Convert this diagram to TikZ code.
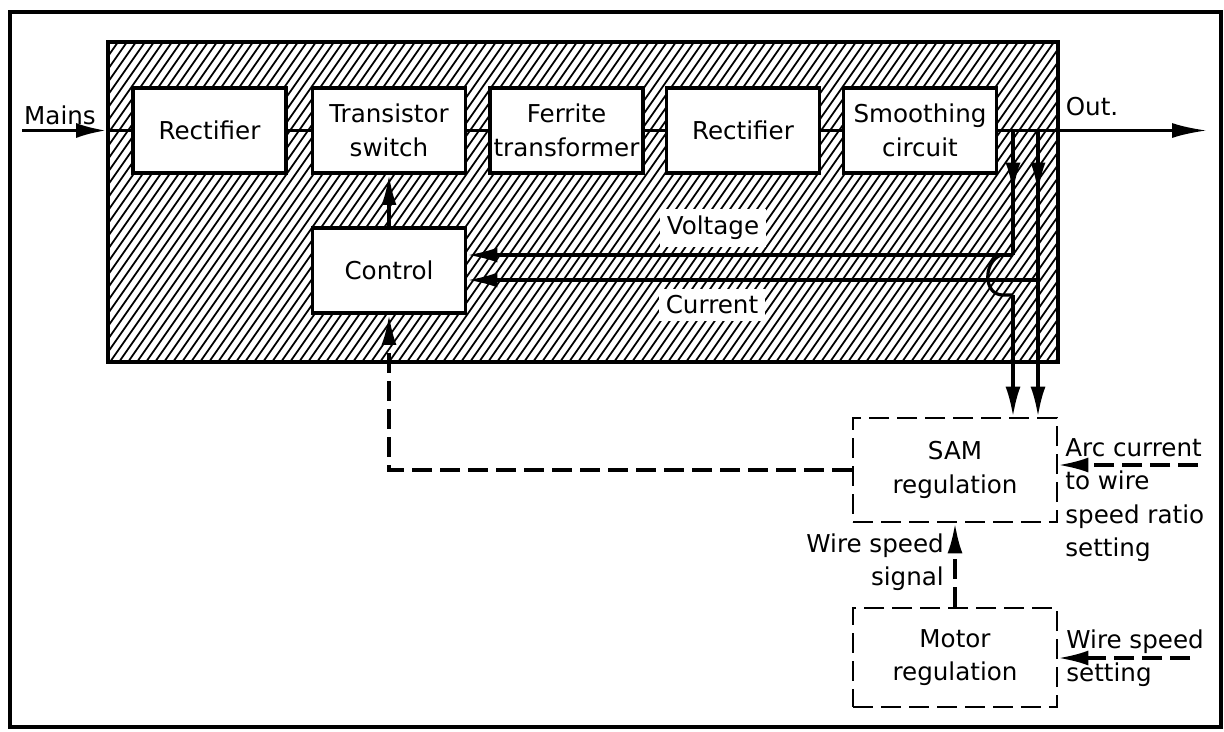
\documentclass[tikz,border=0pt]{standalone}
\usepackage{fontspec}
\setmainfont{DejaVu Sans}
\usetikzlibrary{arrows.meta}

\begin{document}
\begin{tikzpicture}[x=0.02cm,y=-0.02cm,
  font=\fontsize{14}{19}\selectfont,
  block/.style={draw,line width=2.2pt,fill=white,minimum width=3.06cm,minimum height=1.7cm,align=center,inner sep=1pt},
  regbox/.style={draw,dash pattern=on 0.4cm off 0.16cm,line width=1.6pt,minimum width=4.08cm,align=center},
  wire/.style={line width=1.8pt},
  arr/.style={wire,-{Latex[length=6mm,width=3mm]}},
  darr/.style={arr,dash pattern=on 0.4cm off 0.16cm},
  tag/.style={fill=white,inner sep=4pt}]
  \useasboundingbox (0,0) rectangle (1224,731);
  \draw[line width=2.6pt] (10,12) rectangle (1221,727);
  % hatched power unit
  \begin{scope}
    \clip (108,42) rectangle (1058,362);
    \foreach \h in {-124,-115,...,1060}
      \draw[line width=1pt] (\h,362) -- ++(224,-320);
  \end{scope}
  \node[draw,line width=2.2pt,minimum width=19cm,minimum height=6.4cm] (unit) at (583,202) {};

  \node[block] (rect1) at (209.5,130.5) {Rectifier};
  \node[block] (switch) at (389,130.5) {Transistor\\switch};
  \node[block] (ferrite) at (566.5,130.5) {Ferrite\\transformer};
  \node[block] (rect2) at (743,130.5) {Rectifier};
  \node[block] (smooth) at (920,130.5) {Smoothing\\circuit};
  \node[block] (control) at (389,270.5) {Control};
  \node[regbox,minimum height=2.08cm] (sam) at (955,470) {SAM\\regulation};
  \node[regbox,minimum height=1.98cm] (motor) at (955,657.5) {Motor\\regulation};

  % main power path
  \coordinate (mains) at (22,130.5);
  \coordinate (out) at (1207,130.5);
  \node (mainslabel) at (60,115) {Mains};
  \draw[arr] (mains) -- (mains -| unit.west);
  \draw[wire] (mains -| unit.west) -- (rect1);
  \draw[wire] (rect1) -- (switch);
  \draw[wire] (switch) -- (ferrite);
  \draw[wire] (ferrite) -- (rect2);
  \draw[wire] (rect2) -- (smooth);
  \draw[wire,-{Latex[length=7mm,width=3mm]}] (smooth) -- (out);
  \node (outlabel) at (1092,107) {Out.};

  % voltage and current feedback
  \coordinate (vtap) at (1013,130.5);
  \coordinate (itap) at (1038,130.5);
  \coordinate (vcorner) at (1013,255);
  \coordinate (icorner) at (1038,280);
  \coordinate (vdown) at (1013,295);
  \draw[arr] (vtap) -- ++(0,62);
  \draw[arr] (itap) -- ++(0,62);
  \draw[wire] (vtap) -- (vcorner);
  \draw[arr] (vcorner) -- (control.east |- vcorner);
  \draw[arr] (icorner) -- (control.east |- icorner);
  \draw[arr] (itap) -- (itap |- sam.north);
  \draw[wire] (1001,255) .. controls (983,262) and (983,295) .. (1003,295) -- (vdown);
  \draw[arr] (vdown) -- (vdown |- sam.north);
  \node[tag] (vlabel) at (713,228) {Voltage};
  \node[tag] (ilabel) at (712,305) {Current};

  \draw[arr] (control) -- (switch);
  \draw[darr] (sam.west) -- (sam.west -| control.south) -- (control.south);
  \draw[darr] (motor) -- (sam);
  \node[align=right,anchor=east] (wslabel) at (950,562) {Wire speed\\signal};

  % settings
  \coordinate (arcin) at (1198,465);
  \coordinate (wsin) at (1190,658);
  \draw[darr] (arcin) -- (arcin -| sam.east);
  \draw[darr] (wsin) -- (wsin -| motor.east);
  \node[align=left,anchor=north west,inner sep=0pt] (arclabel) at (1065,438) {Arc current\\to wire\\speed ratio\\setting};
  \node[align=left,anchor=north west,inner sep=0pt] (wsetlabel) at (1066,629) {Wire speed\\setting};
\end{tikzpicture}
\end{document}
